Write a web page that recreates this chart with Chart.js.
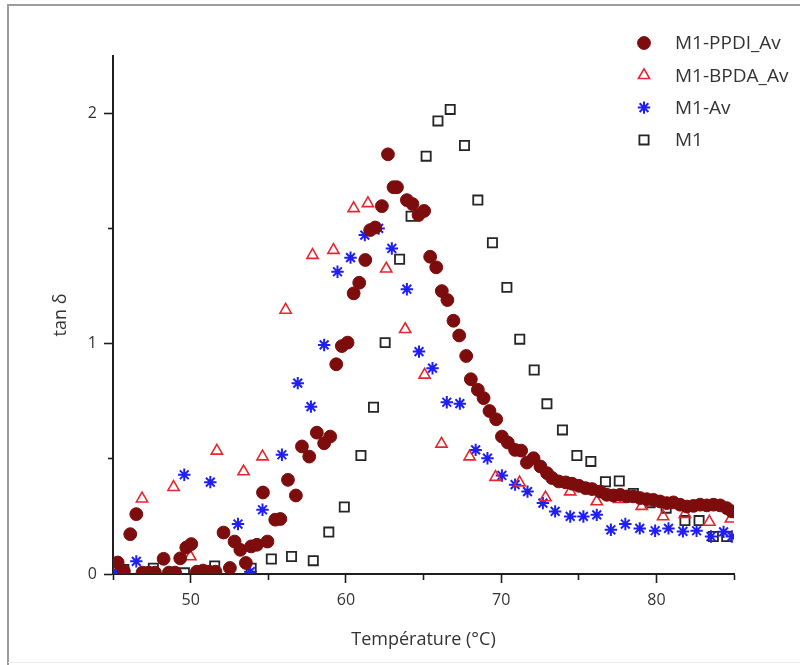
<!DOCTYPE html>
<html>
<head>
<meta charset="utf-8">
<script src="https://cdn.jsdelivr.net/npm/chart.js@4/dist/chart.umd.min.js"></script>
<style>
  html, body { margin: 0; padding: 0; background: #fff; }
  #wrap { width: 800px; height: 665px; }
</style>
</head>
<body>
<div id="wrap"><canvas id="c" width="800" height="665"></canvas></div>
<script>
// ---- Data ----
const seriesNames = ['M1-PPDI_Av', 'M1-BPDA_Av', 'M1-Av', 'M1'];

const ppdiTemp = [45.3, 45.7, 46.11, 46.5, 46.9, 47.3, 47.7, 48.26, 48.6, 49.0, 49.33, 49.72, 50.04, 50.4, 50.8, 51.2, 51.6, 52.12, 52.53, 52.83, 53.2, 53.56, 53.9, 54.27, 54.66, 54.95, 55.45, 55.78, 56.27, 56.78, 57.17, 57.64, 58.13, 58.6, 58.99, 59.38, 59.74, 60.11, 60.5, 60.86, 61.25, 61.57, 61.89, 62.32, 62.71, 63.07, 63.29, 63.93, 64.29, 64.68, 65.04, 65.43, 65.82, 66.18, 66.54, 66.93, 67.3, 67.75, 68.05, 68.5, 68.87, 69.25, 69.68, 70.05, 70.43, 70.9, 71.29, 71.66, 72.09, 72.53, 72.96, 73.28, 73.71, 74.16, 74.58, 75.01, 75.44, 75.86, 76.38, 76.81, 77.24, 77.67, 78.1, 78.52, 78.95, 79.38, 79.81, 80.24, 80.67, 81.1, 81.53, 81.96, 82.39, 82.82, 83.25, 83.68, 84.11, 84.54, 84.86];
const ppdiTan = [0.05, 0.012, 0.173, 0.26, 0.006, 0.006, 0.006, 0.066, 0.006, 0.006, 0.068, 0.115, 0.13, 0.01, 0.015, 0.01, 0.01, 0.18, 0.026, 0.141, 0.105, 0.048, 0.12, 0.127, 0.354, 0.141, 0.236, 0.239, 0.409, 0.341, 0.554, 0.51, 0.614, 0.568, 0.597, 0.911, 0.99, 1.005, 1.219, 1.265, 1.364, 1.494, 1.505, 1.598, 1.823, 1.68, 1.68, 1.624, 1.607, 1.559, 1.577, 1.378, 1.332, 1.229, 1.19, 1.1, 1.036, 0.947, 0.846, 0.8, 0.764, 0.708, 0.672, 0.597, 0.571, 0.539, 0.536, 0.484, 0.503, 0.467, 0.438, 0.417, 0.402, 0.398, 0.392, 0.383, 0.373, 0.369, 0.358, 0.344, 0.341, 0.344, 0.337, 0.337, 0.33, 0.325, 0.322, 0.315, 0.308, 0.311, 0.301, 0.293, 0.296, 0.301, 0.298, 0.301, 0.298, 0.286, 0.272];

const bpdaTemp = [46.87, 48.9, 49.98, 51.69, 53.41, 54.63, 56.12, 57.85, 59.2, 60.5, 61.42, 62.6, 63.82, 65.07, 66.16, 67.97, 69.64, 71.19, 72.86, 74.45, 76.16, 77.6, 79.06, 80.43, 81.84, 83.41, 84.8];
const bpdaTan = [0.327, 0.377, 0.076, 0.535, 0.445, 0.51, 1.147, 1.385, 1.407, 1.588, 1.61, 1.326, 1.063, 0.865, 0.565, 0.51, 0.421, 0.397, 0.332, 0.358, 0.315, 0.325, 0.295, 0.25, 0.26, 0.226, 0.24];

const avTemp = [45.2, 46.5, 49.59, 51.27, 53.05, 53.84, 54.63, 55.88, 56.9, 57.75, 58.6, 59.46, 60.3, 61.22, 62.11, 62.96, 63.93, 64.71, 65.58, 66.5, 67.34, 68.36, 69.12, 70.05, 70.9, 71.7, 72.69, 73.48, 74.45, 75.3, 76.16, 77.07, 78.0, 78.93, 79.92, 80.78, 81.71, 82.59, 83.52, 84.33, 84.86];
const avTan = [0.01, 0.055, 0.431, 0.399, 0.217, 0.01, 0.279, 0.518, 0.829, 0.727, 0.995, 1.313, 1.374, 1.472, 1.501, 1.414, 1.237, 0.966, 0.894, 0.746, 0.74, 0.539, 0.503, 0.428, 0.388, 0.358, 0.308, 0.272, 0.25, 0.25, 0.257, 0.192, 0.217, 0.198, 0.188, 0.198, 0.185, 0.188, 0.163, 0.183, 0.163];

const m1Temp = [45.7, 47.6, 49.6, 51.55, 53.9, 55.2, 56.5, 57.9, 58.9, 59.9, 60.97, 61.78, 62.53, 63.46, 64.2, 65.17, 65.93, 66.72, 67.64, 68.5, 69.44, 70.37, 71.2, 72.13, 72.95, 73.95, 74.88, 75.78, 76.72, 77.61, 78.52, 79.6, 80.63, 81.84, 82.75, 83.67, 84.53];
const m1Tan = [0.02, 0.025, 0.005, 0.035, 0.025, 0.065, 0.076, 0.058, 0.182, 0.291, 0.515, 0.724, 1.005, 1.367, 1.554, 1.815, 1.968, 2.018, 1.861, 1.624, 1.439, 1.245, 1.02, 0.886, 0.739, 0.626, 0.515, 0.489, 0.401, 0.404, 0.35, 0.31, 0.286, 0.232, 0.232, 0.163, 0.163];

const xTickLabels = [50, 60, 70, 80];
const yTickLabels = [0, 1, 2];

// ---- helpers ----
function pts(xs, ys) { return xs.map((x, i) => ({ x: x, y: ys[i] })); }

const FONT = '"Open Sans", "DejaVu Sans", sans-serif';

const frame = {
  id: 'frame',
  beforeDraw(chart) {
    const ctx = chart.ctx;
    ctx.save();
    ctx.fillStyle = '#ffffff';
    ctx.fillRect(0, 0, chart.width, chart.height);
    ctx.strokeStyle = '#9c9c9c';
    ctx.lineWidth = 2;
    ctx.beginPath();
    ctx.moveTo(8, 665);
    ctx.lineTo(8, 5);
    ctx.lineTo(800, 5);
    ctx.stroke();
    ctx.strokeStyle = '#ececec';
    ctx.lineWidth = 1;
    ctx.beginPath();
    ctx.moveTo(8, 662.5);
    ctx.lineTo(800, 662.5);
    ctx.stroke();
    ctx.restore();
  }
};

const sideLegend = {
  id: 'sideLegend',
  afterDraw(chart, args, opts) {
    const ctx = chart.ctx;
    const drawPoint = Chart.helpers && Chart.helpers.drawPoint;
    ctx.save();
    chart.data.datasets.forEach((ds, i) => {
      const cy = opts.y0 + i * opts.dy;
      ctx.fillStyle = ds.backgroundColor;
      ctx.strokeStyle = ds.borderColor;
      ctx.lineWidth = ds.borderWidth;
      if (drawPoint) {
        drawPoint(ctx, { pointStyle: ds.pointStyle, radius: ds.pointRadius, rotation: 0, borderWidth: ds.borderWidth }, opts.markerX, cy);
      }
      ctx.fillStyle = opts.color;
      ctx.font = opts.font;
      ctx.textBaseline = 'middle';
      ctx.textAlign = 'left';
      ctx.fillText(ds.label, opts.textX, cy + 1);
    });
    ctx.restore();
  }
};

const isMajorX = v => xTickLabels.includes(v);
const isMajorY = v => yTickLabels.includes(v);

new Chart(document.getElementById('c'), {
  type: 'scatter',
  data: {
    datasets: [
      { label: seriesNames[0], data: pts(ppdiTemp, ppdiTan), pointStyle: 'circle', pointRadius: 6.4,
        backgroundColor: '#7d0c0c', borderColor: '#7d0c0c', borderWidth: 1 },
      { label: seriesNames[1], data: pts(bpdaTemp, bpdaTan), pointStyle: 'triangle', pointRadius: 6.5,
        backgroundColor: 'rgba(255,255,255,0)', borderColor: '#e5262e', borderWidth: 1.6 },
      { label: seriesNames[2], data: pts(avTemp, avTan), pointStyle: 'star', pointRadius: 6.2,
        backgroundColor: 'rgba(255,255,255,0)', borderColor: '#1e1ef5', borderWidth: 2 },
      { label: seriesNames[3], data: pts(m1Temp, m1Tan), pointStyle: 'rect', pointRadius: 6.5,
        backgroundColor: 'rgba(255,255,255,0)', borderColor: '#262626', borderWidth: 1.8 }
    ]
  },
  options: {
    responsive: false,
    animation: false,
    devicePixelRatio: 1,
    layout: { padding: { left: 0, right: 66, top: 56, bottom: 0 } },
    plugins: {
      legend: { display: false },
      tooltip: { enabled: false },
      sideLegend: { markerX: 644, textX: 675, y0: 43, dy: 32.3, font: '19px ' + FONT, color: '#333333' }
    },
    scales: {
      x: {
        type: 'linear',
        position: 'bottom',
        min: 45, max: 85,
        afterFit: s => { s.height = 91; },
        border: { display: true, color: '#1e1e1e', width: 2 },
        grid: {
          drawOnChartArea: false, drawTicks: true, tickLength: 9,
          tickColor: '#1e1e1e', tickWidth: 1.6,
          tickBorderDash: c => isMajorX(c.tick.value) ? [] : [5, 20]
        },
        ticks: {
          stepSize: 5, includeBounds: false, padding: 8, maxRotation: 0, autoSkip: false,
          color: '#333333', font: { family: FONT, size: 16 },
          callback: v => isMajorX(v) ? String(v) : ''
        },
        title: { display: true, text: 'Température (°C)', color: '#333333',
                 font: { family: FONT, size: 18 }, padding: { top: 0, bottom: 14 } }
      },
      y: {
        type: 'linear',
        position: 'left',
        min: 0, max: 2.25,
        afterFit: s => { s.width = 113; },
        border: { display: true, color: '#1e1e1e', width: 2 },
        grid: {
          drawOnChartArea: false, drawTicks: true, tickLength: 9,
          tickColor: '#1e1e1e', tickWidth: 1.6,
          tickBorderDash: c => isMajorY(c.tick.value) ? [] : [5, 4],
          tickBorderDashOffset: c => isMajorY(c.tick.value) ? 0 : 5
        },
        ticks: {
          stepSize: 0.5, includeBounds: false, padding: 7, autoSkip: false,
          color: '#333333', font: { family: FONT, size: 16 },
          callback: v => isMajorY(v) ? String(v) : ''
        },
        title: { display: true, text: 'tan δ', color: '#333333',
                 font: { family: FONT, size: 18 }, padding: { top: 50, bottom: 0 } }
      }
    }
  },
  plugins: [frame, sideLegend]
});
</script>
</body>
</html>
